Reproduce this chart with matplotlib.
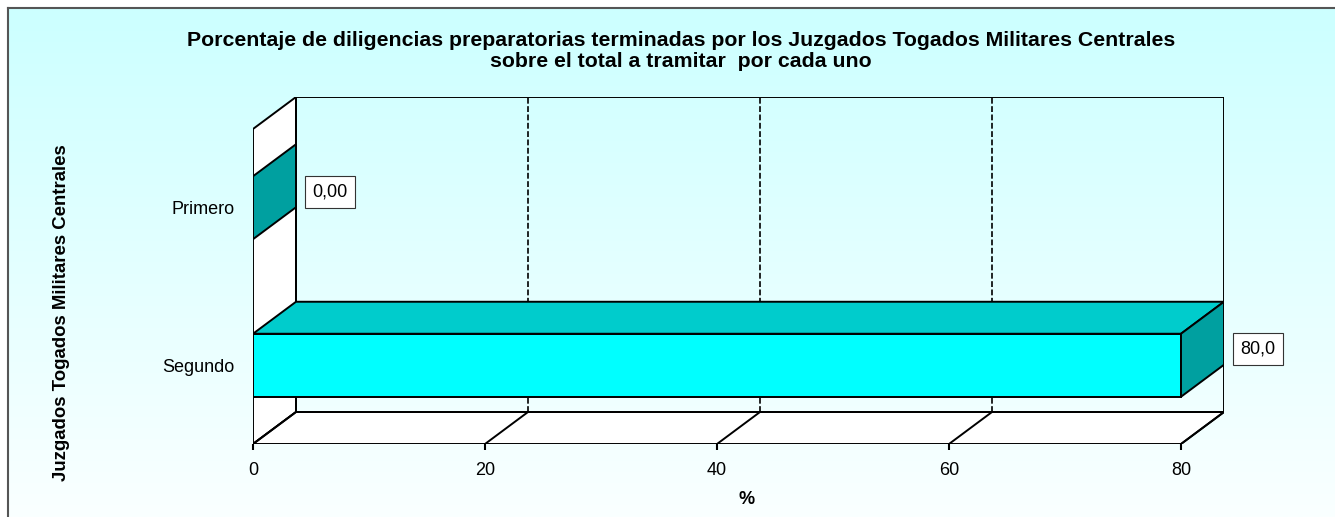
import numpy as np
import matplotlib
matplotlib.use("Agg")
import matplotlib.pyplot as plt
from matplotlib.patches import Polygon
from matplotlib.colors import LinearSegmentedColormap

plt.rcParams['font.family'] = ['Liberation Sans', 'DejaVu Sans']

# ---- data ----
categories = ["Segundo", "Primero"]
values = [80.0, 0.0]
value_labels = ["80,0", "0,00"]
xticks = [0, 20, 40, 60, 80]
xtick_labels = ["0", "20", "40", "60", "80"]
title = ("Porcentaje de diligencias preparatorias terminadas por los Juzgados Togados Militares Centrales\n"
         "sobre el total a tramitar  por cada uno")
ylabel = "Juzgados Togados Militares Centrales"
xlabel = "%"

W, H = 1335, 517
fig = plt.figure(figsize=(W / 100, H / 100), dpi=100)
fig.patch.set_facecolor("white")

# background gradient panel with frame
bg = fig.add_axes([8 / W, 0, (W - 8) / W, (H - 8) / H], zorder=0)
grad = np.linspace(0, 1, 256).reshape(-1, 1)
cmap = LinearSegmentedColormap.from_list("g", ["#CCFFFF", "#FAFFFF"])
bg.imshow(grad, aspect="auto", cmap=cmap, extent=[0, 1, 0, 1], origin="upper")
bg.set_xticks([]); bg.set_yticks([])
for s in ["right", "bottom"]:
    bg.spines[s].set_visible(False)
for s in ["left", "top"]:
    bg.spines[s].set_color("#555555")
    bg.spines[s].set_linewidth(1.5)

# 3D-like plot axes
XMAX = 80.0
DX = 43 / 11.6          # depth offset in data units (x)
DY = 32 / 157.5         # depth offset in data units (y)
BH = 0.2                # half bar height
ax_left, ax_right = 253, 1224
ax_top, ax_bottom = 97, 444
ax = fig.add_axes([ax_left / W, (H - ax_bottom) / H, (ax_right - ax_left) / W, (ax_bottom - ax_top) / H], zorder=1)
ax.set_facecolor("none")
ax.set_xlim(0, XMAX + DX)
ax.set_ylim(-0.5, 1.5 + DY)
for s in ax.spines.values():
    s.set_visible(False)

lc = "black"
lw = 1.4
y0, y1 = -0.5, 1.5
# left wall
ax.add_patch(Polygon([(0, y0), (DX, y0 + DY), (DX, y1 + DY), (0, y1)], closed=True,
                     facecolor="white", edgecolor=lc, lw=lw, zorder=1))
# floor
ax.add_patch(Polygon([(0, y0), (XMAX, y0), (XMAX + DX, y0 + DY), (DX, y0 + DY)], closed=True,
                     facecolor="white", edgecolor=lc, lw=lw, zorder=1))
# back wall
ax.add_patch(Polygon([(DX, y0 + DY), (XMAX + DX, y0 + DY), (XMAX + DX, y1 + DY), (DX, y1 + DY)],
                     closed=True, facecolor="none", edgecolor=lc, lw=lw, zorder=1))
# gridlines on back wall and floor diagonals
for t in xticks:
    if 0 < t < XMAX:
        ax.plot([t + DX, t + DX], [y0 + DY, y1 + DY], color=lc, lw=1.2,
                linestyle=(0, (3.5, 1.5)), zorder=1)
    ax.plot([t, t + DX], [y0, y0 + DY], color=lc, lw=lw, zorder=1)

# bars
front_c, top_c, side_c = "#00FFFF", "#00CCCC", "#00A0A0"
for i, (cat, v) in enumerate(zip(categories, values)):
    yc = i
    if v > 0:
        ax.add_patch(Polygon([(0, yc - BH), (v, yc - BH), (v, yc + BH), (0, yc + BH)], closed=True,
                             facecolor=front_c, edgecolor=lc, lw=lw, zorder=3))
        ax.add_patch(Polygon([(0, yc + BH), (v, yc + BH), (v + DX, yc + BH + DY), (DX, yc + BH + DY)],
                             closed=True, facecolor=top_c, edgecolor=lc, lw=lw, zorder=3))
    ax.add_patch(Polygon([(v, yc - BH), (v + DX, yc - BH + DY), (v + DX, yc + BH + DY), (v, yc + BH)],
                         closed=True, facecolor=side_c, edgecolor=lc, lw=lw, zorder=3))
    ax.text(v + DX + 1.4, yc + DY / 2, value_labels[i], ha="left", va="center", fontsize=13,
            bbox=dict(boxstyle="square,pad=0.42", facecolor="white", edgecolor="#333333", lw=0.8),
            zorder=5)

ax.set_xticks(xticks)
ax.set_xticklabels(xtick_labels, fontsize=13)
ax.tick_params(axis="x", length=4, width=1.5, pad=9, color=lc)
ax.set_yticks(range(len(categories)))
ax.set_yticklabels(categories, fontsize=13)
ax.tick_params(axis="y", length=0, pad=13)

fig.text(681 / W, 1 - 51 / H, title, ha="center", va="center", fontsize=15.3,
         fontweight="bold", linespacing=1.15)
fig.text(747 / W, 1 - 500 / H, xlabel, ha="center", va="center", fontsize=13, fontweight="bold")
fig.text(62 / W, 1 - 313 / H, ylabel, ha="center", va="center", fontsize=13.4, fontweight="bold",
         rotation=90)

fig.savefig("out.png", dpi=100)
